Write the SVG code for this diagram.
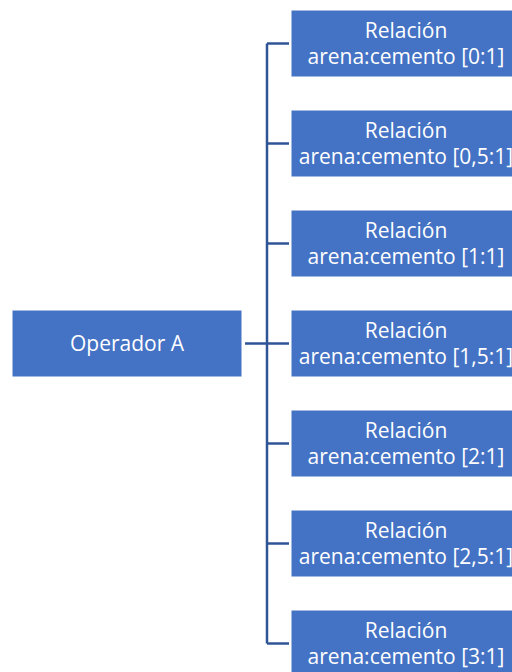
<svg xmlns="http://www.w3.org/2000/svg" width="512" height="672" viewBox="0 0 512 672">
  <style>
    .box { fill: #4472C4; stroke: #ffffff; stroke-width: 1; }
    .lbl { fill: #ffffff; font-family: "Open Sans", "Liberation Sans", sans-serif; font-size: 21px; text-anchor: middle; }
    .conn { fill: none; stroke: #2F5597; stroke-width: 2.5; }
  </style>
  <rect width="512" height="672" fill="#ffffff"/>

  <!-- connectors: root to trunk, trunk, and branches to each ratio -->
  <g id="connectors">
    <path class="conn" d="M245 343.5 H267"/>
    <path class="conn" d="M267 43.5 V643.5"/>
    <path class="conn" d="M267 43.5 H289"/>
    <path class="conn" d="M267 143.5 H289"/>
    <path class="conn" d="M267 243.5 H289"/>
    <path class="conn" d="M267 343.5 H289"/>
    <path class="conn" d="M267 443.5 H289"/>
    <path class="conn" d="M267 543.5 H289"/>
    <path class="conn" d="M267 643.5 H289"/>
  </g>

  <g id="root">
    <rect class="box" x="12" y="310" width="230" height="67"/>
    <text class="lbl" x="127" y="351">Operador A</text>
  </g>

  <g id="r0">
    <rect class="box" x="291" y="10" width="230" height="67"/>
    <text class="lbl" x="406" y="37.5">Relación</text>
    <text class="lbl" x="406" y="63.5">arena:cemento [0:1]</text>
  </g>
  <g id="r05">
    <rect class="box" x="291" y="110" width="230" height="67"/>
    <text class="lbl" x="406" y="137.5">Relación</text>
    <text class="lbl" x="406" y="163.5">arena:cemento [0,5:1]</text>
  </g>
  <g id="r1">
    <rect class="box" x="291" y="210" width="230" height="67"/>
    <text class="lbl" x="406" y="237.5">Relación</text>
    <text class="lbl" x="406" y="263.5">arena:cemento [1:1]</text>
  </g>
  <g id="r15">
    <rect class="box" x="291" y="310" width="230" height="67"/>
    <text class="lbl" x="406" y="337.5">Relación</text>
    <text class="lbl" x="406" y="363.5">arena:cemento [1,5:1]</text>
  </g>
  <g id="r2">
    <rect class="box" x="291" y="410" width="230" height="67"/>
    <text class="lbl" x="406" y="437.5">Relación</text>
    <text class="lbl" x="406" y="463.5">arena:cemento [2:1]</text>
  </g>
  <g id="r25">
    <rect class="box" x="291" y="510" width="230" height="67"/>
    <text class="lbl" x="406" y="537.5">Relación</text>
    <text class="lbl" x="406" y="563.5">arena:cemento [2,5:1]</text>
  </g>
  <g id="r3">
    <rect class="box" x="291" y="610" width="230" height="67"/>
    <text class="lbl" x="406" y="637.5">Relación</text>
    <text class="lbl" x="406" y="663.5">arena:cemento [3:1]</text>
  </g>
</svg>
